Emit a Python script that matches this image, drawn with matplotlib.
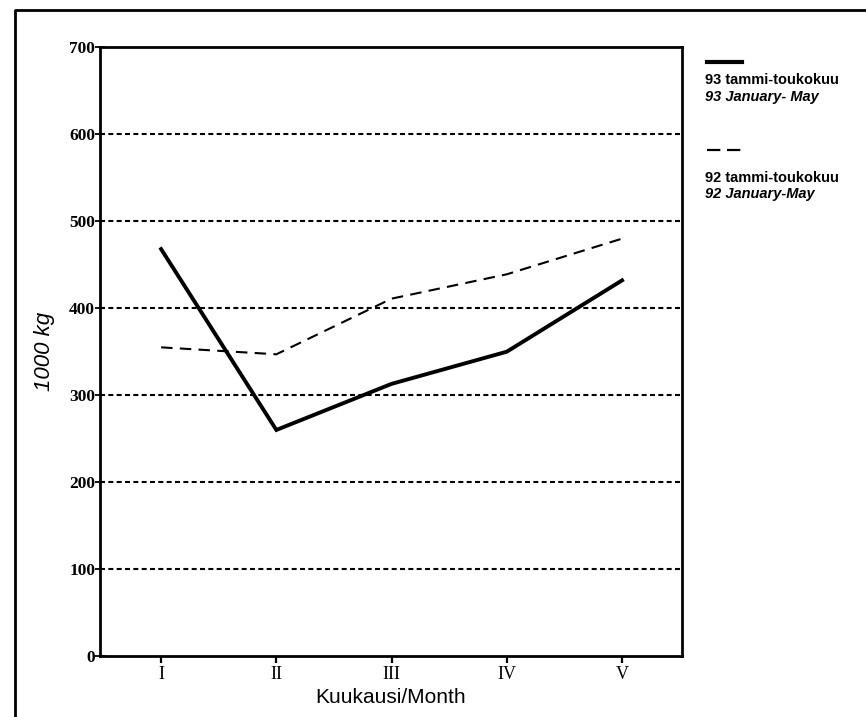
import matplotlib
matplotlib.use("Agg")
import matplotlib.pyplot as plt
from matplotlib.lines import Line2D

# Values (1000 kg)
months = ["I", "II", "III", "IV", "V"]
y93 = [468, 260, 313, 350, 432]
y92 = [355, 347, 411, 439, 480]
yticks = [0, 100, 200, 300, 400, 500, 600, 700]

fig = plt.figure(figsize=(8.66, 7.17), dpi=100)
ax = fig.add_axes([0.1155, 0.085, 0.672, 0.849])

x = list(range(1, len(months) + 1))
ax.plot(x, y93, color="black", lw=2.8, solid_joinstyle="miter")
ax.plot(x, y92, color="black", lw=1.5, dashes=(5.5, 3.5))

# dashed horizontal grid lines
for v in yticks[1:-1]:
    ax.axhline(v, color="black", lw=1.5, dashes=(2.4, 1.6), zorder=0)

ax.set_xlim(0.47, 5.52)
ax.set_ylim(0, 700)
ax.set_yticks(yticks)
ax.set_yticklabels([str(v) for v in yticks], family="Liberation Serif",
                   fontsize=12.5, fontweight="bold")
ax.set_xticks(x)
ax.set_xticklabels(months, family="Liberation Serif", fontsize=13)
ax.tick_params(axis="y", direction="inout", length=7, width=1.3, pad=0)
ax.tick_params(axis="x", direction="out", length=5, width=1.6, pad=2)
for s in ax.spines.values():
    s.set_linewidth(2)

ax.set_xlabel("Kuukausi/Month", family="Liberation Sans", fontsize=15, labelpad=4)
ax.set_ylabel("1000 kg", family="Liberation Sans", fontsize=16, style="italic",
              labelpad=10)

# outer frame (left and top)
bx, by = 15 / 866, 1 - 10 / 717
fig.add_artist(Line2D([bx, bx, 1], [0, by, by], color="black", lw=2))

# legend block
lx = 707 / 866
fig.add_artist(Line2D([lx, 742 / 866], [1 - 62 / 717] * 2, color="black", lw=3))
fig.text(705 / 866, 1 - 80 / 717, "93 tammi-toukokuu", family="Liberation Sans",
         fontsize=10.5, fontweight="bold", va="center")
fig.text(705 / 866, 1 - 97 / 717, "93 January- May", family="Liberation Sans",
         fontsize=10.5, fontweight="bold", style="italic", va="center")
fig.add_artist(Line2D([lx, 742 / 866], [1 - 150 / 717] * 2, color="black", lw=1.6,
                      dashes=(6, 3)))
fig.text(705 / 866, 1 - 178 / 717, "92 tammi-toukokuu", family="Liberation Sans",
         fontsize=10.5, fontweight="bold", va="center")
fig.text(705 / 866, 1 - 194 / 717, "92 January-May", family="Liberation Sans",
         fontsize=10.5, fontweight="bold", style="italic", va="center")

fig.savefig("out.png", dpi=100)
